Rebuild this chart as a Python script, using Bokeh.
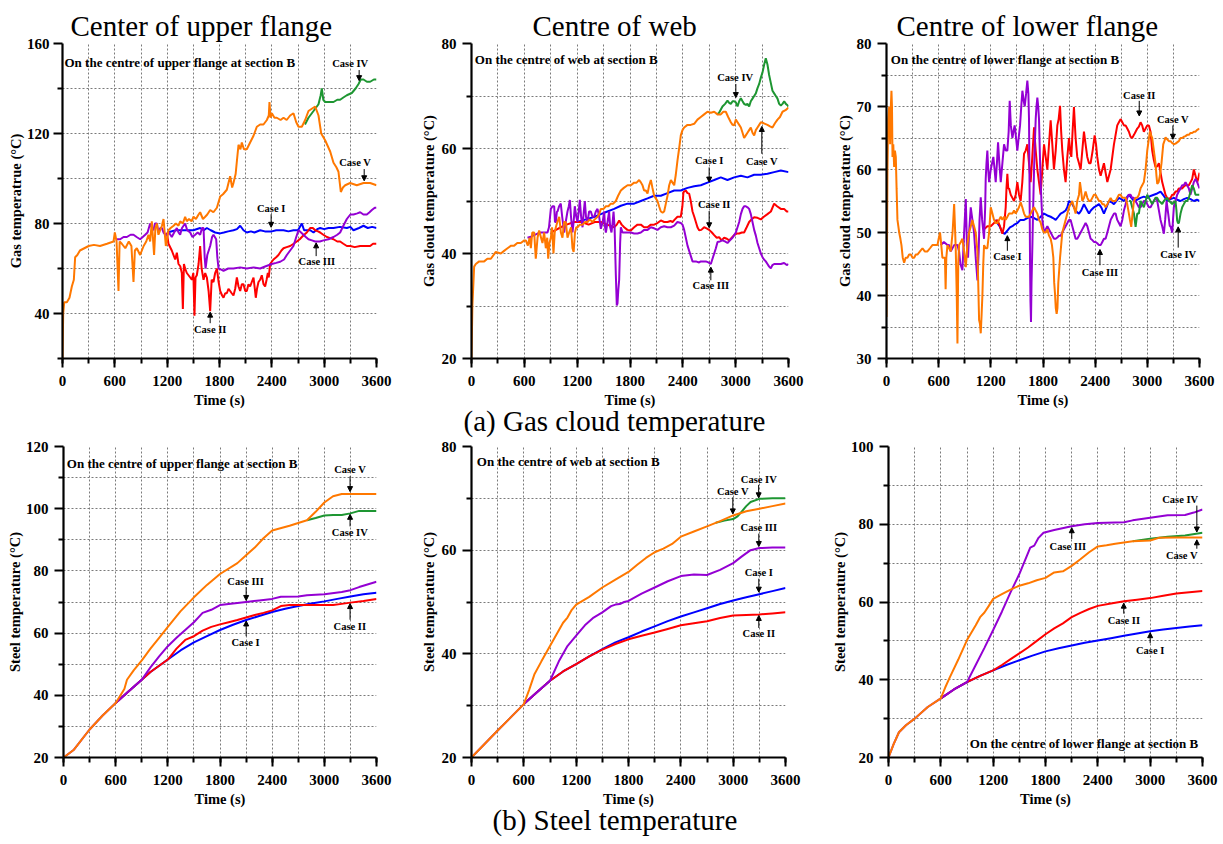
from bokeh.plotting import figure
from bokeh.models import Range1d, FixedTicker, Title, Label, Arrow, NormalHead
from bokeh.layouts import row, column
from bokeh.embed import file_html
from bokeh.resources import INLINE

SERIF = "Liberation Serif"
COLORS = {"I": "#0000FF", "II": "#FF0000", "III": "#9400D3", "IV": "#1E9632", "V": "#FF7800"}
ORDER = ["I", "II", "III", "IV", "V"]

# ---------------- (a) gas cloud temperature : centre of upper flange ----------------
gas_upper_V = [(0, 20), (8, 40), (20, 45), (50, 45), (80, 47), (107, 52), (130, 55), (145, 65), (170, 66), (200, 68),
               (250, 69), (300, 70), (360, 70.5), (430, 70), (510, 71), (585, 72), (600, 76), (620, 72), (642, 50),
               (655, 72), (680, 71), (720, 69), (760, 72), (790, 70), (814, 54), (830, 68), (852, 69), (890, 66),
               (930, 70), (960, 72), (986, 75), (1005, 72), (1024, 81), (1050, 66), (1065, 78), (1082, 80), (1100, 75),
               (1120, 77), (1140, 79), (1158, 82), (1185, 70), (1215, 77), (1240, 78), (1273, 79), (1300, 80),
               (1330, 79), (1349, 81), (1380, 80), (1406, 83), (1425, 81), (1450, 82), (1480, 81), (1502, 83),
               (1530, 82), (1560, 84), (1578, 85), (1610, 82), (1636, 83), (1660, 84), (1693, 86), (1730, 85),
               (1770, 87), (1808, 92), (1840, 93), (1884, 95), (1922, 101), (1945, 96), (1960, 98), (1985, 102),
               (2000, 108), (2018, 115), (2040, 113), (2056, 116), (2080, 113), (2113, 113), (2151, 116), (2190, 119),
               (2228, 123), (2266, 124), (2304, 124), (2343, 126), (2365, 128), (2373, 134), (2385, 127), (2400, 129),
               (2430, 127), (2457, 127), (2500, 126), (2534, 127), (2570, 126), (2610, 128), (2648, 129), (2680, 125),
               (2706, 123), (2744, 123), (2782, 126), (2820, 130), (2858, 131), (2897, 132), (2935, 128), (2966, 120),
               (3011, 117), (3069, 112), (3107, 107), (3140, 105), (3164, 103), (3191, 94), (3215, 96), (3241, 97),
               (3298, 98), (3374, 97), (3451, 98), (3527, 98), (3600, 97)]
gas_upper_IV = [(2780, 124), (2820, 127), (2878, 130), (2935, 133), (2960, 137), (2973, 140), (2990, 135), (3011, 134),
                (3060, 134), (3107, 134), (3150, 135), (3183, 135), (3220, 136), (3260, 137), (3317, 138), (3360, 140),
                (3394, 142), (3420, 144), (3451, 144), (3490, 143), (3527, 143), (3570, 144), (3600, 144)]
gas_upper_I = [(1200, 76), (1300, 77), (1400, 77), (1500, 77), (1578, 78), (1620, 77), (1655, 78), (1700, 77),
               (1750, 76), (1808, 75.6), (1850, 76), (1900, 76.5), (1960, 77), (2000, 77.5), (2037, 79), (2075, 77),
               (2113, 76), (2160, 76.5), (2200, 76), (2266, 77), (2320, 76.5), (2400, 76.5), (2450, 77), (2534, 77),
               (2590, 76.5), (2648, 77), (2700, 77), (2744, 80), (2770, 77), (2801, 77), (2840, 77), (2878, 76),
               (2920, 77.5), (2954, 78), (3000, 77.5), (3050, 78), (3107, 78), (3180, 78.5), (3260, 78), (3300, 78.5),
               (3336, 77), (3400, 78), (3451, 79), (3500, 78), (3550, 78.5), (3600, 78)]
gas_upper_II = [(1196, 76), (1215, 71), (1253, 68), (1292, 64), (1311, 67), (1330, 62), (1350, 61), (1368, 58),
                (1380, 42), (1392, 62), (1406, 60), (1425, 58), (1445, 57), (1464, 56), (1483, 55), (1500, 58),
                (1513, 39), (1525, 56), (1540, 57), (1560, 62), (1578, 70), (1595, 60), (1617, 55), (1636, 58),
                (1655, 56), (1675, 50), (1693, 41), (1710, 55), (1731, 54), (1750, 58), (1770, 60), (1790, 54),
                (1808, 50), (1830, 48), (1846, 47), (1865, 49), (1884, 49), (1903, 51), (1922, 50), (1940, 49),
                (1960, 48), (1980, 51), (1999, 56), (2018, 52), (2037, 50), (2056, 53), (2075, 53), (2095, 50),
                (2113, 50), (2132, 53), (2151, 52), (2170, 54), (2190, 56), (2205, 51), (2216, 47), (2230, 51),
                (2247, 54), (2266, 55), (2285, 57), (2305, 53), (2323, 52), (2340, 55), (2354, 58), (2365, 56),
                (2380, 62), (2419, 64), (2450, 65), (2476, 66), (2510, 68), (2534, 69), (2570, 69.5), (2610, 70),
                (2650, 71), (2686, 72), (2720, 73), (2744, 74), (2770, 75), (2801, 76), (2839, 78), (2870, 78),
                (2897, 77), (2930, 76.5), (2954, 76), (2990, 75), (3031, 74), (3070, 73.5), (3107, 73), (3150, 72),
                (3183, 72), (3220, 71), (3260, 70), (3300, 70), (3350, 69.5), (3413, 70), (3470, 70), (3527, 70),
                (3560, 71), (3600, 71)]
gas_upper_III = [(623, 73), (661, 73), (700, 74), (738, 74), (780, 75), (814, 75), (850, 74), (890, 73), (920, 74),
                 (948, 75), (975, 76), (1005, 80), (1025, 78), (1043, 77), (1060, 80), (1082, 80), (1100, 76),
                 (1120, 78), (1140, 78), (1158, 76), (1180, 75), (1196, 75), (1220, 76), (1253, 74), (1280, 76),
                 (1311, 78), (1330, 76), (1349, 75), (1370, 78), (1406, 80), (1430, 77), (1464, 76), (1490, 74),
                 (1521, 75), (1550, 76), (1578, 75), (1600, 78), (1617, 78), (1630, 65), (1640, 60), (1660, 66),
                 (1693, 70), (1715, 74), (1731, 75), (1762, 73), (1775, 65), (1789, 60), (1820, 59.5), (1846, 59),
                 (1900, 60), (1960, 60), (2037, 60.5), (2113, 60), (2190, 60.5), (2266, 60), (2330, 61), (2400, 62),
                 (2450, 62.5), (2496, 63), (2540, 64), (2572, 66), (2610, 68), (2648, 70), (2680, 74), (2706, 77),
                 (2735, 76), (2763, 75), (2790, 74), (2820, 73), (2860, 72.5), (2897, 72), (2950, 72), (2992, 72.5),
                 (3050, 73), (3107, 74), (3150, 75), (3183, 76), (3220, 79), (3260, 82), (3300, 84), (3336, 84),
                 (3380, 84.5), (3413, 85), (3450, 84), (3489, 84), (3520, 85), (3547, 86), (3580, 87), (3600, 87)]

# ---------------- (a) gas cloud temperature : centre of web ----------------
gas_web_V = [(0, 20), (10, 30), (30, 37.5), (49, 38), (87, 38.5), (144, 38.5), (180, 39), (220, 39), (276, 40.3),
             (333, 40), (370, 40.5), (409, 41), (450, 41.5), (485, 41.5), (520, 42), (560, 42), (600, 42.5),
             (617, 42.5), (640, 41.5), (660, 43), (674, 41), (690, 44), (712, 44), (730, 39), (750, 43), (768, 44.4),
             (790, 43), (806, 42), (825, 44), (844, 41), (860, 43), (871, 39), (885, 42), (901, 43), (915, 45),
             (931, 40), (945, 44), (958, 45), (975, 46), (996, 47), (1015, 44), (1033, 43), (1052, 46), (1071, 46),
             (1090, 43), (1109, 44), (1130, 45), (1147, 41), (1160, 40.3), (1175, 44), (1190, 45), (1204, 45),
             (1230, 45.5), (1261, 45.5), (1290, 46), (1317, 46), (1345, 46.5), (1374, 46), (1400, 46.5), (1431, 47),
             (1450, 47.5), (1469, 48.5), (1500, 48.5), (1526, 49), (1555, 49), (1582, 49.5), (1610, 49.5), (1639, 50),
             (1665, 51), (1696, 52), (1730, 52.5), (1772, 53), (1810, 53), (1847, 53.5), (1875, 53.5), (1904, 54),
             (1925, 53.5), (1942, 53), (1960, 52), (1980, 52), (1999, 51.4), (2018, 53), (2037, 54), (2055, 52.5),
             (2074, 51), (2093, 50.5), (2112, 50), (2130, 49), (2150, 48), (2170, 47.8), (2188, 48), (2207, 49.5),
             (2226, 51), (2245, 53), (2264, 54), (2283, 53.5), (2302, 53), (2320, 55), (2339, 57.7), (2358, 60),
             (2377, 62.5), (2396, 63.5), (2415, 64), (2453, 64.5), (2490, 64.5), (2529, 64.7), (2566, 65.5),
             (2604, 66), (2642, 66.5), (2680, 67), (2718, 66.8), (2756, 67), (2793, 66.5), (2831, 66.5), (2860, 67),
             (2888, 67), (2915, 66), (2945, 65), (2965, 64.5), (2983, 64.4), (3002, 65.5), (3021, 65), (3040, 64.5),
             (3059, 64), (3078, 63), (3096, 62), (3115, 62.5), (3134, 63), (3153, 63.5), (3172, 64), (3191, 63),
             (3210, 62.5), (3229, 63.5), (3248, 64), (3267, 64.5), (3286, 65), (3320, 64.8), (3361, 64.5),
             (3390, 64.2), (3418, 64), (3446, 64.8), (3475, 65.5), (3503, 66), (3532, 67), (3566, 67.3), (3600, 67.8)]
gas_web_IV = [(2790, 66.5), (2812, 66.8), (2850, 68), (2880, 68.5), (2907, 69.1), (2926, 68.7), (2945, 68.5),
              (2965, 69), (2983, 69), (3002, 68.8), (3021, 68), (3040, 69), (3059, 69.6), (3078, 69), (3096, 68.5),
              (3115, 68.3), (3134, 68.5), (3153, 68), (3172, 69), (3191, 69.5), (3210, 70), (3229, 70.5),
              (3248, 71.5), (3267, 72.3), (3286, 73.5), (3305, 74.5), (3324, 76), (3342, 77.2), (3361, 76),
              (3380, 74), (3399, 72.5), (3418, 71), (3437, 70.5), (3456, 70), (3475, 69.5), (3494, 68.5),
              (3513, 68.2), (3532, 68.5), (3551, 69), (3570, 68.5), (3585, 68.3), (3600, 68)]
gas_web_I = [(1200, 46), (1300, 46.5), (1400, 47), (1469, 47.5), (1544, 48), (1620, 48.5), (1696, 49.1), (1772, 49.5),
             (1847, 49.5), (1923, 50), (1999, 50.5), (2074, 51), (2150, 51), (2226, 51.5), (2302, 52), (2377, 52),
             (2453, 52.5), (2529, 52.8), (2604, 53), (2680, 53.5), (2756, 54), (2831, 54.5), (2907, 54), (2983, 54.5),
             (3059, 54.8), (3134, 54.5), (3210, 55), (3286, 55), (3361, 55.2), (3437, 55.5), (3513, 55.8), (3600, 55.5)]
gas_web_II = [(900, 44), (960, 44.5), (1014, 45), (1080, 45.5), (1166, 46), (1250, 46), (1330, 45.5), (1400, 46),
              (1469, 46), (1540, 45.5), (1620, 45), (1650, 45.5), (1677, 46.3), (1705, 45.5), (1734, 45), (1770, 44.5),
              (1809, 44.4), (1847, 45), (1885, 45.5), (1923, 45.5), (1960, 45), (1999, 45), (2037, 45.5), (2074, 45.5),
              (2112, 45.8), (2150, 46.3), (2188, 46), (2226, 46), (2260, 46.2), (2283, 46), (2310, 46.5), (2339, 47),
              (2377, 47), (2395, 49), (2407, 51.7), (2434, 52), (2453, 51.5), (2472, 51.4), (2490, 50), (2510, 48),
              (2530, 47), (2548, 46), (2566, 45), (2585, 44.4), (2610, 44.5), (2642, 45), (2670, 44.8), (2699, 44.5),
              (2730, 44), (2756, 43.5), (2785, 43), (2812, 43.1), (2840, 42.5), (2869, 43), (2900, 42.8), (2926, 42.5),
              (2955, 43), (2983, 43.5), (3010, 43.8), (3040, 43.8), (3070, 44), (3096, 44), (3125, 45), (3153, 46),
              (3180, 46.5), (3210, 46.9), (3248, 46.8), (3286, 46.5), (3320, 47), (3361, 47.5), (3400, 48),
              (3437, 49.5), (3470, 49), (3513, 48.5), (3550, 48.5), (3580, 48), (3600, 48)]
gas_web_III = [(636, 43), (674, 43.2), (712, 43.5), (750, 43.8), (787, 44), (825, 44), (863, 44), (880, 45),
               (901, 48.5), (920, 49), (939, 49), (948, 46), (958, 46), (970, 48), (977, 48), (995, 49), (1014, 49.5),
               (1030, 47), (1052, 44), (1070, 46), (1090, 48), (1105, 49), (1117, 50.2), (1130, 47), (1147, 44),
               (1160, 46), (1173, 49), (1190, 47), (1204, 46), (1218, 48), (1230, 50.2), (1245, 47), (1261, 45),
               (1275, 48), (1287, 50), (1300, 47), (1317, 46), (1336, 48), (1355, 48), (1374, 47), (1393, 47),
               (1412, 48), (1431, 48.5), (1450, 47), (1469, 44.7), (1490, 46), (1507, 48), (1517, 45), (1526, 44),
               (1545, 46), (1563, 48), (1575, 45), (1590, 44), (1603, 46), (1613, 48), (1625, 45), (1639, 36),
               (1650, 30.1), (1658, 30.5), (1667, 33), (1677, 35), (1688, 42), (1696, 45), (1715, 44), (1734, 44),
               (1770, 44), (1809, 44), (1847, 43.8), (1885, 43.8), (1923, 44), (1961, 44.5), (1999, 44.5), (2037, 45),
               (2074, 44.8), (2112, 44.5), (2150, 45), (2188, 45.2), (2226, 45), (2264, 45), (2302, 45.3), (2339, 46),
               (2377, 45.8), (2396, 45.5), (2415, 44.5), (2434, 43), (2453, 41.5), (2472, 40.5), (2491, 39.5),
               (2510, 38.5), (2548, 38.5), (2585, 38.3), (2604, 38.5), (2633, 38.5), (2661, 38.5), (2690, 38.3),
               (2718, 38), (2737, 39), (2756, 40), (2775, 41), (2794, 42.2), (2822, 42.3), (2850, 42.5), (2878, 42.3),
               (2907, 42), (2935, 42.5), (2964, 43), (2983, 43.5), (3002, 44), (3021, 45), (3040, 46), (3059, 47.5),
               (3078, 48.5), (3096, 49), (3115, 49), (3134, 48.8), (3153, 48.5), (3172, 47.5), (3191, 46),
               (3210, 44.5), (3229, 43.4), (3248, 42), (3267, 41), (3286, 40), (3305, 39.3), (3324, 38.8),
               (3342, 38.5), (3361, 38), (3380, 37.5), (3399, 37.2), (3418, 37.8), (3437, 38), (3475, 38), (3513, 38),
               (3550, 38.2), (3580, 37.8), (3600, 38)]

# ---------------- (a) gas cloud temperature : centre of lower flange ----------------
gas_lower_V = [(0, 36.6), (5, 45), (11, 60), (20, 68), (31, 70), (42, 64), (50, 70), (57, 72.5), (63, 70), (69, 62),
               (78, 64), (88, 60.4), (97, 63), (107, 62), (116, 57), (126, 52), (136, 51), (146, 50), (160, 49),
               (172, 48), (187, 46), (203, 45.2), (220, 46), (241, 46), (260, 46.5), (280, 46.5), (300, 46),
               (318, 46), (337, 46.5), (356, 46.5), (385, 47), (414, 47.5), (440, 47), (471, 47), (500, 47.5),
               (528, 48), (557, 48), (586, 48), (600, 49), (616, 50), (630, 48), (643, 46), (660, 46), (672, 46),
               (680, 41), (688, 46), (701, 48), (720, 47.5), (739, 47), (760, 50), (778, 54.5), (790, 50), (797, 47),
               (808, 40), (816, 32.4), (825, 45), (835, 48), (855, 48.5), (873, 49), (893, 47), (912, 44.5),
               (930, 48), (950, 50), (970, 51), (988, 52), (1007, 51), (1026, 50), (1046, 47), (1055, 42),
               (1065, 36.1), (1075, 35.5), (1084, 34), (1094, 37), (1103, 40), (1113, 45), (1122, 48), (1141, 47.5),
               (1160, 47.5), (1180, 50), (1199, 54), (1218, 53), (1237, 52), (1256, 51.5), (1275, 51.5), (1295, 52),
               (1314, 52.5), (1333, 52), (1352, 52.5), (1371, 52), (1390, 52.5), (1410, 53), (1429, 53), (1448, 53),
               (1467, 53.5), (1486, 53), (1505, 53.5), (1524, 54), (1543, 54.8), (1562, 54), (1582, 53), (1601, 52.5),
               (1620, 52.5), (1639, 52.5), (1658, 53), (1677, 53.5), (1697, 54), (1716, 53.5), (1735, 53),
               (1754, 52), (1773, 51.6), (1792, 50.5), (1812, 50), (1831, 50), (1850, 50.5), (1869, 49.5), (1888, 49),
               (1903, 48), (1919, 46), (1929, 42), (1938, 40.3), (1947, 38), (1957, 37.1), (1966, 38), (1976, 42),
               (1986, 44), (1996, 46), (2009, 48), (2022, 50), (2041, 51), (2060, 52), (2080, 53), (2099, 54),
               (2118, 54.5), (2137, 55), (2156, 54), (2175, 53), (2194, 55), (2214, 56), (2225, 58), (2235, 57),
               (2252, 55), (2271, 55.5), (2290, 56.5), (2310, 55.5), (2329, 55), (2348, 55), (2367, 55.5), (2386, 56),
               (2405, 56), (2424, 55.5), (2444, 55), (2463, 55), (2482, 54.5), (2501, 54.5), (2520, 54), (2540, 54.5),
               (2559, 55), (2578, 55.5), (2597, 55), (2616, 55), (2635, 55), (2654, 55.5), (2673, 56), (2692, 56),
               (2712, 55.5), (2731, 55.5), (2750, 55.5), (2769, 54.5), (2788, 53), (2800, 52), (2815, 50.9),
               (2830, 53), (2846, 55), (2865, 55.5), (2884, 55.5), (2903, 56), (2922, 57), (2941, 57.5), (2960, 58),
               (2980, 60), (2999, 63), (3014, 64.5), (3029, 66), (3042, 65.5), (3056, 65), (3075, 63), (3094, 61),
               (3105, 59), (3114, 57.7), (3130, 58), (3144, 59), (3163, 61), (3183, 64), (3196, 64.5), (3209, 65.1),
               (3228, 64.8), (3248, 64.5), (3267, 64.5), (3286, 64.2), (3305, 64), (3324, 64.1), (3343, 64.3),
               (3362, 64.5), (3382, 65), (3401, 65), (3420, 65.2), (3439, 65.3), (3458, 65.5), (3478, 65.5),
               (3497, 65.8), (3516, 65.8), (3535, 66), (3554, 66), (3573, 66.3), (3600, 66.5)]
gas_lower_IV = [(2790, 55), (2807, 55), (2826, 54), (2846, 53), (2855, 52), (2865, 50.9), (2875, 52), (2884, 53),
                (2903, 53), (2922, 55), (2941, 54.5), (2960, 54), (2980, 55), (2999, 56), (3018, 55.5), (3037, 55),
                (3056, 54.5), (3075, 55), (3094, 55.5), (3114, 55.5), (3133, 55), (3152, 54.8), (3171, 54.5),
                (3190, 55), (3209, 55.3), (3229, 55.5), (3248, 55), (3267, 54.8), (3286, 54.5), (3305, 54.8),
                (3324, 55), (3335, 53.5), (3343, 51.9), (3353, 51.5), (3363, 51.5), (3382, 53), (3401, 54),
                (3420, 54.5), (3439, 55), (3458, 55), (3478, 55.5), (3497, 56.5), (3516, 57.5), (3535, 57),
                (3554, 56), (3573, 56), (3600, 56)]
gas_lower_I = [(1250, 52), (1300, 51), (1333, 50), (1360, 49.8), (1390, 50.3), (1420, 50.8), (1448, 51), (1475, 51.3),
               (1505, 51.5), (1540, 52), (1582, 52), (1620, 52.3), (1658, 52.5), (1697, 52.3), (1735, 52),
               (1773, 52.5), (1812, 53), (1850, 52.7), (1888, 52.5), (1915, 52.3), (1946, 52), (1975, 52.5),
               (2003, 53), (2030, 53.2), (2060, 53.5), (2080, 54), (2099, 55), (2118, 54.8), (2137, 54.5), (2156, 54),
               (2175, 53.5), (2194, 53.2), (2214, 53), (2240, 53.5), (2271, 54.5), (2290, 54), (2310, 53.5),
               (2329, 53), (2350, 53.5), (2386, 54), (2410, 54.2), (2444, 54.5), (2470, 54), (2501, 53), (2530, 54),
               (2559, 55), (2590, 54.8), (2616, 54.5), (2645, 55), (2673, 55.5), (2700, 55.3), (2731, 55),
               (2760, 55.5), (2788, 56), (2817, 55.5), (2846, 55), (2880, 55.2), (2922, 55.5), (2960, 55.7),
               (2999, 55.5), (3037, 55.8), (3075, 56), (3114, 56.2), (3152, 56.5), (3190, 55.8), (3229, 55),
               (3267, 55.3), (3305, 55.5), (3343, 55.2), (3382, 55), (3420, 55.3), (3458, 55.5), (3497, 55.3),
               (3535, 55), (3570, 55.2), (3600, 55)]
gas_lower_II = [(1122, 50.5), (1160, 51), (1199, 51), (1237, 51.5), (1275, 52), (1305, 51), (1333, 49.8), (1352, 51),
                (1371, 54), (1380, 57), (1390, 59.3), (1400, 57), (1410, 57), (1429, 56), (1448, 55.5), (1467, 55),
                (1486, 56), (1505, 58), (1524, 56), (1543, 55), (1562, 58), (1582, 62.5), (1601, 63), (1620, 64),
                (1639, 61), (1658, 58), (1677, 62), (1697, 66.7), (1716, 63), (1735, 60), (1754, 58), (1773, 56),
                (1792, 60), (1812, 64), (1831, 62), (1850, 60), (1869, 64), (1888, 67.8), (1907, 64), (1926, 60),
                (1946, 63), (1965, 67), (1980, 68), (1996, 70.1), (2009, 66), (2022, 63), (2041, 60), (2060, 58),
                (2080, 62), (2099, 65), (2112, 63), (2126, 62), (2140, 66), (2156, 69.9), (2175, 65), (2194, 62),
                (2214, 61), (2233, 60), (2252, 63), (2271, 66), (2290, 64), (2309, 62), (2329, 61), (2348, 61),
                (2371, 63), (2394, 65.4), (2410, 64), (2424, 62), (2444, 60), (2463, 59), (2482, 60), (2501, 61),
                (2520, 59.5), (2540, 58), (2559, 59), (2578, 60), (2597, 62), (2616, 64), (2635, 65.5), (2654, 67),
                (2673, 67.5), (2692, 68), (2712, 67.5), (2731, 67), (2750, 67), (2769, 66.5), (2788, 66),
                (2807, 65.2), (2826, 65), (2846, 65.5), (2865, 66), (2884, 66.5), (2903, 66.8), (2922, 67.5),
                (2941, 67), (2960, 66), (2980, 66.5), (2999, 67), (3018, 67), (3037, 66), (3056, 63), (3075, 61.5),
                (3094, 60.4), (3114, 60.5), (3133, 61), (3152, 59.5), (3171, 58), (3190, 57), (3209, 56), (3228, 55.5),
                (3248, 55.3), (3267, 55.5), (3286, 56), (3305, 56), (3324, 56.5), (3343, 56.5), (3362, 57), (3382, 57),
                (3401, 57), (3420, 57.3), (3439, 57.5), (3458, 57.5), (3478, 57.5), (3497, 58), (3516, 58.5),
                (3535, 60), (3554, 59), (3573, 58), (3585, 58.5), (3600, 59.5)]
gas_lower_III = [(624, 48), (660, 48.5), (701, 48), (720, 48), (739, 47), (778, 48), (797, 48), (816, 48), (835, 47),
                 (850, 45), (873, 44), (893, 50), (912, 55.3), (925, 48), (938, 46), (950, 50), (969, 54), (988, 52),
                 (1007, 50), (1026, 46), (1046, 42.4), (1060, 47), (1070, 52), (1084, 55.6), (1100, 52), (1122, 49),
                 (1135, 54), (1141, 58.5), (1150, 61), (1160, 63), (1170, 60), (1180, 58), (1190, 59), (1199, 60),
                 (1214, 61), (1229, 62), (1243, 60), (1256, 58), (1270, 61), (1283, 64.3), (1298, 61), (1314, 58),
                 (1333, 61), (1352, 64), (1371, 63), (1390, 63), (1405, 66), (1417, 70.9), (1430, 67), (1448, 65),
                 (1460, 66), (1474, 67), (1490, 65), (1505, 63), (1520, 65), (1536, 67), (1550, 70), (1563, 72.5),
                 (1577, 71), (1590, 70), (1605, 72), (1620, 74.1), (1632, 72), (1639, 68), (1645, 58), (1651, 45),
                 (1656, 39), (1662, 35.8), (1668, 42), (1678, 48), (1687, 54), (1697, 60), (1706, 64), (1716, 68),
                 (1725, 70), (1735, 71.4), (1745, 70), (1754, 68), (1763, 63), (1773, 58), (1782, 55), (1792, 52),
                 (1802, 51), (1812, 50), (1831, 50.5), (1850, 51), (1869, 50.5), (1888, 50), (1907, 49.5), (1927, 49),
                 (1946, 49), (1965, 49.2), (1984, 49.5), (2003, 49.5), (2022, 50), (2041, 50.5), (2060, 51),
                 (2080, 51.5), (2099, 52), (2118, 52), (2137, 51), (2156, 50), (2175, 49), (2194, 49), (2214, 49.5),
                 (2233, 50), (2252, 50.5), (2271, 51), (2290, 51.5), (2310, 51), (2329, 50), (2348, 49), (2367, 48.8),
                 (2386, 48.5), (2405, 48.5), (2424, 48.3), (2444, 48), (2463, 48), (2482, 48.5), (2501, 49),
                 (2520, 49), (2540, 50), (2559, 51), (2578, 52), (2597, 52.5), (2616, 53), (2635, 53), (2654, 52),
                 (2673, 51.5), (2692, 51), (2712, 52), (2731, 53.5), (2750, 54.5), (2769, 55.5), (2788, 56),
                 (2807, 56), (2826, 55.5), (2846, 55.5), (2865, 55), (2884, 54.5), (2903, 54), (2922, 54),
                 (2941, 54.5), (2960, 55), (2980, 55), (2999, 54.5), (3018, 54), (3037, 54), (3056, 54.5), (3075, 55),
                 (3094, 55.5), (3114, 55), (3133, 53.5), (3152, 52), (3171, 51), (3190, 49.8), (3205, 52), (3221, 55),
                 (3240, 53), (3258, 51), (3267, 51), (3276, 50.5), (3286, 50), (3295, 52), (3305, 54), (3324, 55),
                 (3343, 56), (3362, 56.5), (3382, 57), (3401, 57.5), (3420, 57.5), (3439, 58), (3458, 57.5),
                 (3478, 57), (3496, 56), (3516, 57), (3535, 58), (3554, 58.5), (3573, 58), (3600, 57)]

# ---------------- (b) steel temperature ----------------
steel_upper_V = [(0, 20), (120, 22.5), (300, 29), (450, 33.5), (600, 37.5), (700, 42), (730, 45), (807, 48),
                 (903, 51.3), (1000, 55), (1100, 58.5), (1200, 62), (1345, 67), (1500, 71.5), (1650, 75.5), (1800, 79),
                 (2000, 82.5), (2100, 85), (2200, 87.5), (2300, 90.5), (2400, 93), (2600, 94.5), (2800, 96.3),
                 (2900, 99), (3000, 102), (3100, 104), (3200, 104.7), (3400, 104.7), (3600, 104.7)]
steel_upper_IV = [(2800, 96.3), (2900, 97), (3000, 97.8), (3100, 98), (3200, 98), (3300, 98.5), (3400, 99.3),
                  (3600, 99.3)]
steel_upper_III = [(0, 20), (120, 22.5), (300, 29), (450, 33.5), (600, 37.5), (750, 41.3), (900, 45), (1000, 49),
                   (1100, 52.5), (1200, 55.8), (1300, 58.5), (1400, 61), (1500, 63.5), (1600, 66.5), (1700, 67.5),
                   (1800, 69), (1950, 69.5), (2100, 70), (2250, 70.5), (2400, 71), (2500, 71.7), (2700, 71.8),
                   (2800, 72.2), (3000, 72.5), (3200, 73.2), (3300, 73.8), (3400, 74.8), (3600, 76.5)]
steel_upper_I = [(600, 37.5), (750, 41.3), (900, 45), (1000, 47.5), (1100, 49.5), (1200, 51.5), (1350, 54.5),
                 (1500, 57), (1650, 59), (1800, 61), (1950, 62.7), (2100, 64.2), (2250, 65.5), (2400, 66.8),
                 (2550, 67.8), (2700, 68.7), (2850, 69.5), (3000, 70.2), (3150, 71), (3300, 71.8), (3450, 72.5),
                 (3600, 73)]
steel_upper_II = [(600, 37.5), (750, 41.3), (900, 45), (1000, 47.5), (1100, 49.5), (1200, 51.5), (1300, 55),
                  (1400, 57.8), (1500, 59), (1600, 60.8), (1700, 62), (1800, 62.8), (1900, 63.5), (2000, 64.2),
                  (2100, 65), (2200, 65.8), (2300, 66.5), (2400, 67.3), (2500, 68.7), (2600, 69), (2800, 69),
                  (2950, 69), (3100, 69), (3200, 69.4), (3300, 69.8), (3450, 70.3), (3600, 71)]

steel_web_V = [(0, 20), (300, 25.2), (600, 30.3), (660, 33), (720, 36), (800, 38.5), (900, 41.5), (1000, 44.5),
               (1050, 46), (1100, 47), (1150, 48.5), (1200, 49.5), (1350, 51), (1500, 52.8), (1650, 54.3), (1800, 55.8),
               (1900, 57.2), (2000, 58.5), (2100, 59.6), (2200, 60.3), (2300, 61.2), (2400, 62.6), (2550, 63.6),
               (2700, 64.6), (2850, 65.6), (3000, 66.7), (3150, 67.5), (3300, 68), (3450, 68.5), (3600, 69)]
steel_web_IV = [(2800, 65.3), (2900, 65.7), (3000, 66), (3050, 66.5), (3100, 67.5), (3150, 68.5), (3200, 69.3),
                (3300, 69.9), (3450, 70), (3600, 70)]
steel_web_III = [(0, 20), (300, 25.2), (600, 30.3), (750, 32.6), (900, 34.8), (1000, 38.5), (1100, 41.5), (1200, 43.5),
                 (1300, 45.5), (1400, 47), (1500, 48), (1600, 49.2), (1650, 49.5), (1700, 49.6), (1750, 50),
                 (1800, 50.2), (1950, 51.6), (2100, 52.8), (2250, 54), (2400, 55), (2550, 55.3), (2700, 55.2),
                 (2850, 56.2), (3000, 57.5), (3100, 58.8), (3200, 60), (3300, 60.4), (3450, 60.5), (3600, 60.5)]
steel_web_I = [(600, 30.3), (750, 32.6), (900, 34.8), (1050, 36.6), (1200, 38), (1350, 39.5), (1500, 40.9),
               (1650, 42.2), (1800, 43.2), (1950, 44.3), (2100, 45.3), (2250, 46.3), (2400, 47.2), (2550, 48),
               (2700, 48.8), (2850, 49.6), (3000, 50.3), (3150, 50.9), (3300, 51.5), (3450, 52.1), (3600, 52.7)]
steel_web_II = [(600, 30.3), (750, 32.6), (900, 34.8), (1050, 36.6), (1200, 38), (1350, 39.5), (1500, 40.8),
                (1650, 41.9), (1800, 42.8), (1950, 43.5), (2100, 44.1), (2250, 44.8), (2400, 45.5), (2550, 45.9),
                (2700, 46.3), (2850, 46.9), (3000, 47.4), (3150, 47.5), (3300, 47.6), (3450, 47.8), (3600, 48)]

steel_lower_V = [(0, 20), (60, 23.5), (120, 26.5), (200, 28.3), (300, 30), (450, 33), (600, 35.2), (650, 38),
                 (700, 40.5), (800, 45.2), (900, 50.2), (1000, 54), (1050, 56.1), (1100, 57.3), (1150, 59),
                 (1200, 60.8), (1300, 62), (1400, 63.2), (1500, 64.2), (1600, 64.8), (1700, 65.6), (1800, 66.2),
                 (1900, 67.6), (2000, 67.9), (2100, 69.3), (2200, 71), (2300, 72.8), (2400, 74.3), (2500, 74.6),
                 (2600, 75), (2800, 75.6), (3000, 75.8), (3100, 76.5), (3300, 76.6), (3600, 76.6)]
steel_lower_IV = [(2800, 75.6), (3000, 76.3), (3200, 76.8), (3400, 77.1), (3600, 77.8)]
steel_lower_III = [(0, 20), (60, 23.5), (120, 26.5), (200, 28.3), (300, 30), (450, 33), (600, 35.2), (750, 37.5),
                   (900, 39.4), (1000, 43.8), (1100, 48.2), (1200, 52.8), (1300, 57.5), (1395, 62.3), (1500, 67.2),
                   (1625, 74), (1671, 74.5), (1720, 76.5), (1777, 77.8), (1900, 78.5), (2100, 79.5), (2250, 80),
                   (2400, 80.3), (2700, 80.5), (2800, 81), (3000, 81.7), (3200, 82.3), (3400, 82.4), (3500, 83),
                   (3600, 83.8)]
steel_lower_I = [(600, 35.2), (750, 37.5), (900, 39.4), (1050, 41), (1200, 42.4), (1350, 43.8), (1500, 45),
                 (1650, 46.2), (1800, 47.3), (1950, 48.1), (2100, 48.8), (2250, 49.5), (2400, 50.1), (2550, 50.7),
                 (2700, 51.3), (2850, 51.9), (3000, 52.5), (3150, 52.9), (3300, 53.3), (3450, 53.7), (3600, 54)]
steel_lower_II = [(600, 35.2), (750, 37.5), (900, 39.4), (1050, 41), (1200, 42.4), (1300, 43.8), (1400, 45.3),
                  (1500, 46.8), (1600, 48.3), (1700, 50), (1800, 51.7), (1900, 53.2), (2000, 54.5), (2100, 56.1),
                  (2200, 57.2), (2300, 58.2), (2400, 59), (2550, 59.6), (2700, 60.2), (2850, 60.6), (3000, 61),
                  (3150, 61.6), (3300, 62.2), (3450, 62.5), (3600, 62.8)]

# axis tick values
time_ticks = [0, 600, 1200, 1800, 2400, 3000, 3600]
time_minor = [0, 300, 600, 900, 1200, 1500, 1800, 2100, 2400, 2700, 3000, 3300, 3600]

# annotations: (text, text_t, text_T, arrow_t, arrow_T_start, arrow_T_end)
notes_gas_upper = [("Case IV", 3298, 150.9, 3401, 148.2, 143.5), ("Case V", 3355, 107.2, 3459, 104.2, 99),
                   ("Case I", 2392, 86.6, 2392, 84.1, 78.3), ("Case III", 2916, 63.1, 2908, 65.5, 71.4),
                   ("Case II", 1693, 32.7, 1693, 35.7, 40.6)]
notes_gas_web = [("Case IV", 2994, 73.5, 3002, 72.3, 69.7), ("Case V", 3297, 57.6, 3297, 59.0, 64.2),
                 ("Case I", 2699, 57.8, 2699, 56.4, 53.6), ("Case II", 2756, 49.3, 2699, 48.1, 44.9),
                 ("Case III", 2718, 33.9, 2718, 34.9, 37.4)]
notes_gas_lower = [("Case II", 2907, 71.8, 2907, 70.9, 68.5), ("Case V", 3294, 68.0, 3294, 67.0, 64.8),
                   ("Case I", 1390, 46.2, 1390, 47.1, 49.5), ("Case III", 2455, 43.7, 2455, 44.8, 47.3),
                   ("Case IV", 3355, 46.5, 3355, 47.6, 50.9)]
notes_steel_upper = [("Case V", 3296, 112.5, 3296, 110.4, 105.5), ("Case IV", 3293, 92.3, 3296, 94.3, 98.2),
                     ("Case III", 2094, 76.7, 2101, 74.8, 70.5), ("Case I", 2094, 56.9, 2101, 59.0, 63.9),
                     ("Case II", 3293, 62.2, 3296, 64.3, 69.5)]
notes_steel_web = [("Case IV", 3294, 73.6, 3292, 72.6, 70.1), ("Case V", 2996, 71.4, 2996, 70.2, 67.0),
                   ("Case III", 3294, 64.4, 3294, 63.2, 60.7), ("Case I", 3294, 55.6, 3294, 54.5, 51.9),
                   ("Case II", 3294, 43.9, 3294, 45.0, 47.4)]
notes_steel_lower = [("Case IV", 3344, 86.3, 3535, 84.8, 78.0), ("Case V", 3363, 71.9, 3535, 73.7, 76.0),
                     ("Case III", 2056, 74.4, 2101, 76.2, 79.1), ("Case II", 2698, 55.2, 2697, 57.0, 59.7),
                     ("Case I", 3000, 47.4, 3000, 49.4, 52.1)]


def make_panel(cfg):
    p = figure(width=cfg["w"], height=cfg["h"], x_range=Range1d(0, 3600), y_range=Range1d(*cfg["yr"]),
               output_backend="svg", toolbar_location=None, title=None,
               min_border_left=cfg["bl"], min_border_right=cfg["br"],
               min_border_top=cfg["bt"], min_border_bottom=cfg["bb"])
    p.outline_line_color = None
    p.background_fill_color = "white"
    p.border_fill_color = "white"
    p.xaxis.ticker = FixedTicker(ticks=time_ticks, minor_ticks=time_minor)
    p.yaxis.ticker = FixedTicker(ticks=cfg["ymaj"], minor_ticks=cfg["ymin"])
    p.xgrid.ticker = FixedTicker(ticks=time_minor)
    p.ygrid.ticker = FixedTicker(ticks=sorted(cfg["ymaj"] + cfg["ymin"]))
    for g in (p.xgrid, p.ygrid):
        g.grid_line_color = "#7a7a7a"
        g.grid_line_dash = "2 2"
        g.grid_line_width = 1
    p.xaxis.axis_label = "Time (s)"
    p.yaxis.axis_label = cfg["ylab"]
    for ax in (p.xaxis, p.yaxis):
        ax.axis_line_width = 2.2
        ax.axis_line_color = "black"
        ax.major_tick_line_width = 2
        ax.minor_tick_line_width = 2
        ax.major_tick_out = 9
        ax.major_tick_in = 0
        ax.minor_tick_out = 5
        ax.minor_tick_in = 0
        ax.major_label_text_font = SERIF
        ax.major_label_text_font_size = "15px"
        ax.major_label_text_font_style = "bold"
        ax.major_label_text_color = "black"
        ax.axis_label_text_font = SERIF
        ax.axis_label_text_font_size = "14.5px"
        ax.axis_label_text_font_style = "bold"
        ax.axis_label_text_color = "black"
    p.yaxis.major_label_standoff = cfg["ystand"]
    p.yaxis.axis_label_standoff = cfg["ylabstand"]
    p.xaxis.major_label_standoff = 8
    p.xaxis.axis_label_standoff = 3

    if cfg.get("title"):
        t = Title(text=cfg["title"], align="left", offset=cfg["toff"], text_font=SERIF,
                  text_font_size="29px", text_font_style="normal", text_color="black", standoff=4)
        p.add_layout(t, "above")
    if cfg.get("cap"):
        c = Title(text=cfg["cap"], align="left", offset=cfg["coff"], text_font=SERIF,
                  text_font_size="29px", text_font_style="normal", text_color="black", standoff=-16)
        p.add_layout(c, "below")

    for case in ORDER:
        pts = cfg["series"].get(case)
        if not pts:
            continue
        xs = [a for a, b in pts]
        ys = [b for a, b in pts]
        p.line(xs, ys, line_color=COLORS[case], line_width=2)

    for (txt, tx, ty, ax_t, a0, a1) in cfg["notes"]:
        p.add_layout(Label(x=tx, y=ty, text=txt, text_align="center", text_baseline="middle",
                           text_font=SERIF, text_font_size="10.5px", text_font_style="bold", text_color="black"))
        p.add_layout(Arrow(x_start=ax_t, y_start=a0, x_end=ax_t, y_end=a1, line_width=1, line_color="black",
                           end=NormalHead(size=5, fill_color="black", line_color="black", line_width=1)))
    st, sx, sy, salign = cfg["sub"]
    p.add_layout(Label(x=sx, y=sy, text=st, text_align=salign, text_baseline="middle",
                       text_font=SERIF, text_font_size="13px", text_font_style="bold", text_color="black"))
    return p


TOP_H, BOT_H = 440, 404
cfgs = [
    dict(w=410, h=TOP_H, bl=62, br=34, bt=43, bb=82, yr=(20, 160), ymaj=[40, 80, 120, 160], ymin=[20, 60, 100, 140],
         ylab="Gas temperatrue (°C)", ystand=4, ylabstand=0, title="Center of upper flange", toff=8,
         series={"I": gas_upper_I, "II": gas_upper_II, "III": gas_upper_III, "IV": gas_upper_IV, "V": gas_upper_V},
         notes=notes_gas_upper, sub=("On the centre of upper flange at section B", 23, 151.6, "left")),
    dict(w=410, h=TOP_H, bl=61, br=32, bt=43, bb=82, yr=(20, 80), ymaj=[20, 40, 60, 80], ymin=[30, 50, 70],
         ylab="Gas cloud temperature (°C)", ystand=6, ylabstand=2, title="Centre of web", toff=61,
         cap="(a) Gas cloud temperature", coff=-8,
         series={"I": gas_web_I, "II": gas_web_II, "III": gas_web_III, "IV": gas_web_IV, "V": gas_web_V},
         notes=notes_gas_web, sub=("On the centre of web at section B", 38, 77.0, "left")),
    dict(w=403, h=TOP_H, bl=66, br=24, bt=43, bb=82, yr=(30, 80), ymaj=[30, 40, 50, 60, 70, 80],
         ymin=[35, 45, 55, 65, 75], ylab="Gas cloud temperature (°C)", ystand=6, ylabstand=1,
         title="Centre of lower flange", toff=10,
         series={"I": gas_lower_I, "II": gas_lower_II, "III": gas_lower_III, "IV": gas_lower_IV, "V": gas_lower_V},
         notes=notes_gas_lower, sub=("On the centre of lower flange at section B", 50, 77.5, "left")),
    dict(w=410, h=BOT_H, bl=63, br=34, bt=6, bb=87, yr=(20, 120), ymaj=[20, 40, 60, 80, 100, 120],
         ymin=[30, 50, 70, 90, 110], ylab="Steel temperature (°C)", ystand=6, ylabstand=0,
         series={"I": steel_upper_I, "II": steel_upper_II, "III": steel_upper_III, "IV": steel_upper_IV,
                 "V": steel_upper_V},
         notes=notes_steel_upper, sub=("On the centre of upper flange at section B", 38, 114.6, "left")),
    dict(w=410, h=BOT_H, bl=61, br=35, bt=6, bb=87, yr=(20, 80), ymaj=[20, 40, 60, 80], ymin=[30, 50, 70],
         ylab="Steel temperature (°C)", ystand=6, ylabstand=2, cap="(b) Steel temperature", coff=21,
         series={"I": steel_web_I, "II": steel_web_II, "III": steel_web_III, "IV": steel_web_IV, "V": steel_web_V},
         notes=notes_steel_web, sub=("On the centre of web at section B", 61, 77.1, "left")),
    dict(w=403, h=BOT_H, bl=68, br=21, bt=6, bb=87, yr=(20, 100), ymaj=[20, 40, 60, 80, 100],
         ymin=[30, 50, 70, 90], ylab="Steel temperature (°C)", ystand=6, ylabstand=0,
         series={"I": steel_lower_I, "II": steel_lower_II, "III": steel_lower_III, "IV": steel_lower_IV,
                 "V": steel_lower_V},
         notes=notes_steel_lower, sub=("On the centre of lower flange at section B", 3554, 23.7, "right")),
]

figs = [make_panel(c) for c in cfgs]
layout = column(row(*figs[:3]), row(*figs[3:]))

with open("out.html", "w") as f:
    f.write(file_html(layout, INLINE))
